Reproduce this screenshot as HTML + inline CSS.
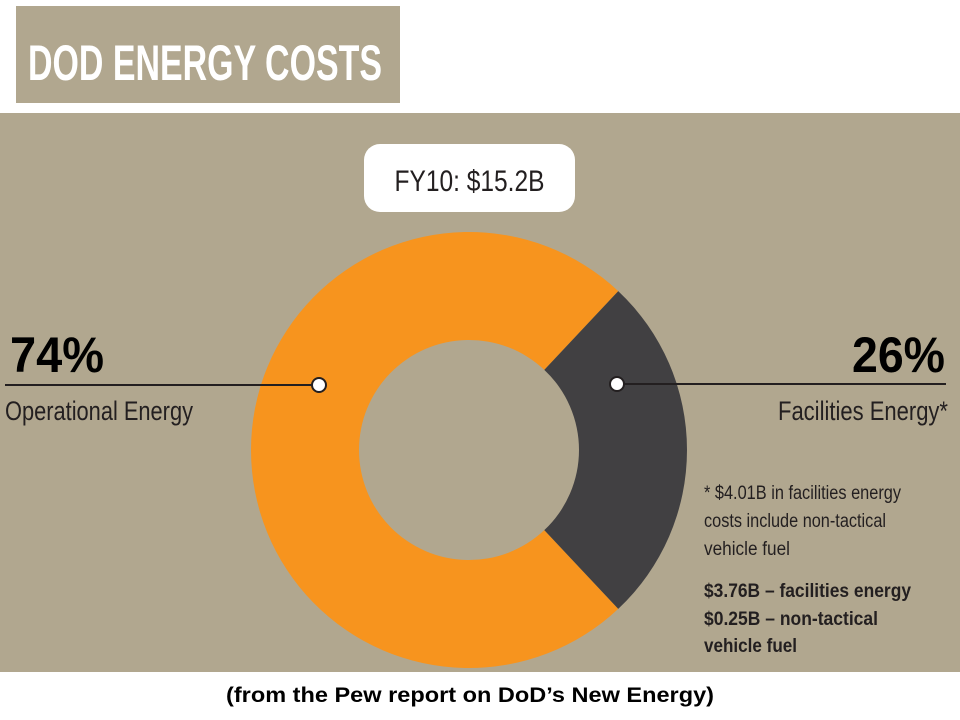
<!DOCTYPE html>
<html><head><meta charset="utf-8"><style>
body{margin:0;background:#fff;}
svg{display:block;font-family:"Liberation Sans Narrow","Liberation Sans",sans-serif;}
</style></head><body>
<svg width="960" height="720" viewBox="0 0 960 720">
<rect x="16" y="6" width="384" height="97" fill="#b1a78f"/>
<text x="28" y="80" font-size="50" font-weight="bold" fill="#fff" textLength="354" lengthAdjust="spacingAndGlyphs">DOD ENERGY COSTS</text>
<rect x="0" y="113" width="960" height="559" fill="#b1a78f"/>
<g id="donut"></g>
<rect x="364" y="144" width="211" height="68" rx="16" fill="#fff"/>
<text x="469.5" y="191" font-size="30" text-anchor="middle" fill="#231f20" textLength="150" lengthAdjust="spacingAndGlyphs">FY10: $15.2B</text>
<line x1="5" y1="385" x2="319" y2="385" stroke="#231f20" stroke-width="2"/>
<circle cx="319" cy="385" r="7" fill="#fff" stroke="#231f20" stroke-width="2"/>
<line x1="617" y1="384" x2="946" y2="384" stroke="#231f20" stroke-width="2"/>
<circle cx="617" cy="384" r="7" fill="#fff" stroke="#231f20" stroke-width="2"/>
<text x="10" y="372" font-size="50" font-weight="bold" fill="#000" textLength="94" lengthAdjust="spacingAndGlyphs">74%</text>
<text x="5" y="420" font-size="27" fill="#231f20" textLength="188" lengthAdjust="spacingAndGlyphs">Operational Energy</text>
<text x="852" y="372" font-size="50" font-weight="bold" fill="#000" textLength="93" lengthAdjust="spacingAndGlyphs">26%</text>
<text x="778" y="420" font-size="27" fill="#231f20" textLength="170" lengthAdjust="spacingAndGlyphs">Facilities Energy*</text>
<g fill="#231f20" font-size="19">
<text x="704" y="499" textLength="197" lengthAdjust="spacingAndGlyphs">* $4.01B in facilities energy</text>
<text x="704" y="527" textLength="182" lengthAdjust="spacingAndGlyphs">costs include non-tactical</text>
<text x="704" y="555" textLength="86" lengthAdjust="spacingAndGlyphs">vehicle fuel</text>
<text x="704" y="597" font-weight="bold" textLength="207" lengthAdjust="spacingAndGlyphs">$3.76B – facilities energy</text>
<text x="704" y="625" font-weight="bold" textLength="174" lengthAdjust="spacingAndGlyphs">$0.25B – non-tactical</text>
<text x="704" y="652" font-weight="bold" textLength="93" lengthAdjust="spacingAndGlyphs">vehicle fuel</text>
</g>
<text x="470" y="702" font-size="21" font-weight="bold" text-anchor="middle" fill="#000" font-family="Liberation Sans, sans-serif" textLength="488" lengthAdjust="spacingAndGlyphs">(from the Pew report on DoD’s New Energy)</text>
</svg>
<script>
const categories = ["Operational Energy", "Facilities Energy"];
const shares = [74, 26];
const colors = ["#f7941e", "#414042"];
(function(){
  const g = document.getElementById('donut');
  const cx = 469, cy = 450, R = 218, r = 110;
  const total = shares.reduce((a,b)=>a+b,0);
  // facilities slice centered on the right (0°); start operational after it
  let start = Math.PI * shares[1] / total; // angle (math, counter-clockwise from right, y-up)
  const order = [0, 1];
  order.forEach(i => {
    const sweep = 2 * Math.PI * shares[i] / total;
    const a0 = start, a1 = start + sweep;
    const p = (rad, a) => [cx + rad * Math.cos(a), cy - rad * Math.sin(a)];
    const [x0,y0] = p(R,a0), [x1,y1] = p(R,a1), [x2,y2] = p(r,a1), [x3,y3] = p(r,a0);
    const large = sweep > Math.PI ? 1 : 0;
    const d = `M${x0},${y0} A${R},${R} 0 ${large} 0 ${x1},${y1} L${x2},${y2} A${r},${r} 0 ${large} 1 ${x3},${y3} Z`;
    const path = document.createElementNS('http://www.w3.org/2000/svg','path');
    path.setAttribute('d', d);
    path.setAttribute('fill', colors[i]);
    
    
    g.appendChild(path);
    start = a1;
  });
})();
</script>
</body></html>
